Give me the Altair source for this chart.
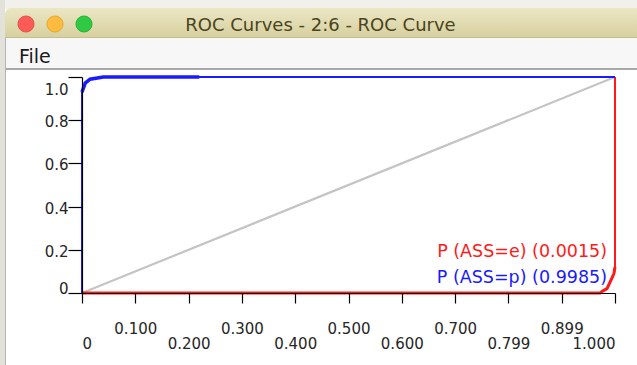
import altair as alt
import pandas as pd

# ---------------- data ----------------
window_title = "ROC Curves - 2:6 - ROC Curve"
menu_items = ["File"]

blue_fpr = [0.0, 0.0, 0.002, 0.006, 0.015, 0.04, 0.22, 1.0]
blue_tpr = [0.0, 0.93, 0.944, 0.972, 0.99, 1.0, 1.0, 1.0]
red_fpr = [0.0, 0.972, 0.9775, 0.985, 0.9925, 0.998, 1.0, 1.0]
red_tpr = [0.0, 0.0, 0.01, 0.02, 0.06, 0.09, 0.12, 1.0]
diag_fpr = [0.0, 1.0]
diag_tpr = [0.0, 1.0]

x_tick_values = [0.0, 0.1, 0.2, 0.3, 0.4, 0.5, 0.6, 0.7, 0.8, 0.9, 1.0]
x_tick_labels = ["0", "0.100", "0.200", "0.300", "0.400", "0.500",
                 "0.600", "0.700", "0.799", "0.899", "1.000"]
y_tick_values = [0.0, 0.2, 0.4, 0.6, 0.8, 1.0]
y_tick_labels = ["0", "0.2", "0.4", "0.6", "0.8", "1.0"]

series_names = ["P (ASS=e)", "P (ASS=p)"]
series_auc = ["0.0015", "0.9985"]
series_colors = ["#ff1a1a", "#1a1aff"]

# ---------------- tables ----------------
blue_df = pd.DataFrame({"fpr": blue_fpr, "tpr": blue_tpr, "i": range(len(blue_fpr))})
red_df = pd.DataFrame({"fpr": red_fpr, "tpr": red_tpr, "i": range(len(red_fpr))})
diag_df = pd.DataFrame({"fpr": diag_fpr, "tpr": diag_tpr, "i": range(len(diag_fpr))})
dummy = pd.DataFrame({"a": [0]})

FONT = "DejaVu Sans"
W, H = 533, 216
PAD = {"left": 82, "top": 77, "right": 22, "bottom": 72}


def js_list(items):
    return "[" + ",".join('"' + s + '"' for s in items) + "]"


x_scale = alt.Scale(domain=[0, 1], nice=False, zero=False)
y_scale = alt.Scale(domain=[0, 1], nice=False, zero=False)

x_axis = alt.Axis(
    values=x_tick_values,
    labelExpr=js_list(x_tick_labels) + "[round(datum.value*10)]",
    title=None, grid=False, tickSize=10, tickColor="black", tickWidth=1.2,
    domainColor="black", domainWidth=1.2,
    labelFont=FONT, labelFontSize=15, labelColor="#262626",
    labelFlush=True, labelOverlap=False, labelBaseline="middle",
    labelPadding={"condition": {"test": "round(datum.value*10) % 2 == 1", "value": 25}, "value": 40},
    zindex=1,
)
y_axis = alt.Axis(
    values=y_tick_values,
    labelExpr=js_list(y_tick_labels) + "[round(datum.value*5)]",
    title=None, grid=False, tickSize=14, tickColor="black", tickWidth=1.2,
    domainColor="black", domainWidth=1.2,
    labelFont=FONT, labelFontSize=15, labelColor="#262626",
    labelOverlap=False, labelPadding=0, labelBaseline="middle",
    labelOffset={"condition": [{"test": "datum.value == 0", "value": -5},
                               {"test": "datum.value == 1", "value": 12}],
                 "value": 1.5},
    zindex=1,
)

# ---------------- window chrome ----------------
def box(x, x2, y, y2, fill, **kw):
    return alt.Chart(dummy).mark_rect(fill=fill, **kw).encode(
        x=alt.value(x), x2=alt.value(x2), y=alt.value(y), y2=alt.value(y2))


top_bg = box(-82, 555, -77, -68, "#f1f0ea")
left_bg = box(-82, -77, -77, 288, "#e3e2da")
title_bar = box(-77, 555, -69, -40, alt.Gradient(
    gradient="linear",
    stops=[alt.GradientStop(offset=0, color="#ebe7c4"),
           alt.GradientStop(offset=1, color="#d7d0a0")],
    x1=0, x2=0, y1=0, y2=1), cornerRadiusTopLeft=6)
title_border = box(-77, 555, -40, -39, "#c4bd90")
menu_bar = box(-77, 555, -39, -9, "#f7f7f7")
separator = box(-77, 555, -9, -7, "#a9a9a9")
left_border = box(-77, -76, -39, 288, "#b5b5b5")

lights = []
for cx, col, st in [(-56, "#fd5b55", "#e0443e"), (-27, "#fdbb3f", "#dea123"), (2, "#2fc944", "#1aab29")]:
    lights.append(alt.Chart(dummy).mark_circle(size=260, color=col, opacity=1,
                                               stroke=st, strokeWidth=0.8).encode(
        x=alt.value(cx), y=alt.value(-53)))

title_text = alt.Chart(dummy).mark_text(
    text=window_title, font=FONT, fontSize=18, color="#4a4420",
    align="center", baseline="alphabetic").encode(x=alt.value(238.5), y=alt.value(-46))
menu_text = alt.Chart(dummy).mark_text(
    text=menu_items[0], font=FONT, fontSize=19, color="#1a1a1a", fontWeight=500,
    align="left", baseline="alphabetic").encode(x=alt.value(-63), y=alt.value(-14))

# ---------------- data marks ----------------
enc = dict(
    x=alt.X("fpr:Q", scale=x_scale, axis=x_axis),
    y=alt.Y("tpr:Q", scale=y_scale, axis=y_axis),
    order=alt.Order("i:Q"),
)
diag = alt.Chart(diag_df).mark_line(color="#c4c4c4", strokeWidth=2.2).encode(**enc)

red_thin = alt.Chart(red_df).mark_line(color=series_colors[0], strokeWidth=2).encode(
    x=alt.X("fpr:Q", scale=x_scale), y=alt.Y("tpr:Q", scale=y_scale), order=alt.Order("i:Q"))
red_thick = alt.Chart(red_df).transform_filter("datum.tpr <= 0.15").mark_line(
    color=series_colors[0], strokeWidth=3, strokeJoin="miter").encode(
    x=alt.X("fpr:Q", scale=x_scale), y=alt.Y("tpr:Q", scale=y_scale), order=alt.Order("i:Q"))

blue_thin = alt.Chart(blue_df).mark_line(color=series_colors[1], strokeWidth=2).encode(
    x=alt.X("fpr:Q", scale=x_scale), y=alt.Y("tpr:Q", scale=y_scale), order=alt.Order("i:Q"))
blue_thick = alt.Chart(blue_df).transform_filter("datum.tpr >= 0.9 && datum.fpr <= 0.25").mark_line(
    color=series_colors[1], strokeWidth=3.5, strokeJoin="miter").encode(
    x=alt.X("fpr:Q", scale=x_scale), y=alt.Y("tpr:Q", scale=y_scale), order=alt.Order("i:Q"))

legend_red = alt.Chart(dummy).mark_text(
    text=f"{series_names[0]} ({series_auc[0]})", font=FONT, fontSize=17.5,
    color=series_colors[0], align="right", baseline="alphabetic").encode(
    x=alt.value(525), y=alt.value(180))
legend_blue = alt.Chart(dummy).mark_text(
    text=f"{series_names[1]} ({series_auc[1]})", font=FONT, fontSize=17.5,
    color=series_colors[1], align="right", baseline="alphabetic").encode(
    x=alt.value(525), y=alt.value(206))

chart = alt.layer(
    diag, top_bg, left_bg, title_bar, title_border, menu_bar, separator, left_border,
    *lights, title_text, menu_text,
    red_thin, red_thick, blue_thin, blue_thick, legend_red, legend_blue,
).properties(
    width=W, height=H, background="white",
    autosize=alt.AutoSizeParams(type="none"),
    padding=PAD,
).configure_view(stroke=None)

chart.save("out.html", embed_options={"renderer": "svg", "actions": False})
